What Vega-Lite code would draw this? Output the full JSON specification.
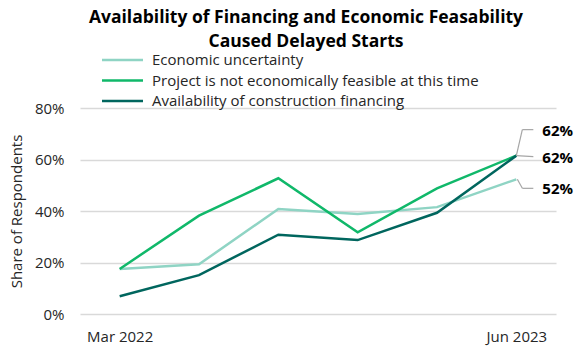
{
  "$schema": "https://vega.github.io/schema/vega-lite/v6.json",
  "width": 476,
  "height": 206,
  "autosize": {"type": "none"},
  "padding": {"left": 80, "top": 108, "right": 24, "bottom": 36},
  "background": "white",
  "config": {
    "font": "Open Sans",
    "view": {"stroke": null},
    "axis": {"labelFont": "Open Sans", "titleFont": "Open Sans", "labelColor": "#262626", "titleColor": "#262626"}
  },
  "title": {
    "text": ["Availability of Financing and Economic Feasability", "Caused Delayed Starts"],
    "fontSize": 17.5,
    "fontWeight": "bold",
    "color": "#000000",
    "anchor": "middle",
    "lineHeight": 24,
    "offset": -2,
    "dx": -12
  },
  "data": {
    "values": [
      {"quarter": "Mar 2022", "series": "Economic uncertainty", "value": 0.175},
      {"quarter": "Jun 2022", "series": "Economic uncertainty", "value": 0.193},
      {"quarter": "Sep 2022", "series": "Economic uncertainty", "value": 0.408},
      {"quarter": "Dec 2022", "series": "Economic uncertainty", "value": 0.388},
      {"quarter": "Mar 2023", "series": "Economic uncertainty", "value": 0.415},
      {"quarter": "Jun 2023", "series": "Economic uncertainty", "value": 0.523},
      {"quarter": "Mar 2022", "series": "Project is not economically feasible at this time", "value": 0.175},
      {"quarter": "Jun 2022", "series": "Project is not economically feasible at this time", "value": 0.382},
      {"quarter": "Sep 2022", "series": "Project is not economically feasible at this time", "value": 0.527},
      {"quarter": "Dec 2022", "series": "Project is not economically feasible at this time", "value": 0.317},
      {"quarter": "Mar 2023", "series": "Project is not economically feasible at this time", "value": 0.488},
      {"quarter": "Jun 2023", "series": "Project is not economically feasible at this time", "value": 0.615},
      {"quarter": "Mar 2022", "series": "Availability of construction financing", "value": 0.069},
      {"quarter": "Jun 2022", "series": "Availability of construction financing", "value": 0.151},
      {"quarter": "Sep 2022", "series": "Availability of construction financing", "value": 0.308},
      {"quarter": "Dec 2022", "series": "Availability of construction financing", "value": 0.287},
      {"quarter": "Mar 2023", "series": "Availability of construction financing", "value": 0.393},
      {"quarter": "Jun 2023", "series": "Availability of construction financing", "value": 0.615}
    ]
  },
  "encoding": {
    "x": {
      "field": "quarter",
      "type": "ordinal",
      "sort": ["Mar 2022", "Jun 2022", "Sep 2022", "Dec 2022", "Mar 2023", "Jun 2023"],
      "scale": {"type": "point", "padding": 0.5},
      "axis": {
        "title": null,
        "labelAngle": 0,
        "ticks": false,
        "domain": false,
        "grid": false,
        "labelFontSize": 15,
        "labelPadding": 15,
        "labelExpr": "datum.label == 'Mar 2022' || datum.label == 'Jun 2023' ? datum.label : ''"
      }
    },
    "y": {
      "field": "value",
      "type": "quantitative",
      "scale": {"domain": [0, 0.8]},
      "axis": {
        "title": "Share of Respondents",
        "titleFontSize": 15,
        "titleFontWeight": "normal",
        "titlePadding": 10,
        "format": ".0%",
        "values": [0, 0.2, 0.4, 0.6, 0.8],
        "ticks": false,
        "domain": false,
        "labelFontSize": 15,
        "labelPadding": 16,
        "gridColor": "#d9d9d9",
        "gridWidth": 1.5
      }
    }
  },
  "layer": [
    {
      "mark": {"type": "line", "strokeWidth": 2.5},
      "encoding": {
        "color": {
          "field": "series",
          "type": "nominal",
          "scale": {
            "domain": ["Economic uncertainty", "Project is not economically feasible at this time", "Availability of construction financing"],
            "range": ["#8fd4c4", "#10b86a", "#00665e"]
          },
          "legend": {
            "title": null,
            "orient": "none",
            "legendX": 31,
            "legendY": -59.5,
            "padding": 0,
            "symbolType": "M-2,0H2",
            "symbolSize": 420,
            "symbolStrokeWidth": 2.5,
            "labelFontSize": 15,
            "labelColor": "#262626",
            "labelOffset": 18,
            "rowPadding": 0.5,
            "labelLimit": 500
          }
        }
      }
    },
    {
      "transform": [{"filter": "datum.quarter == 'Jun 2023' && datum.series == 'Availability of construction financing'"}],
      "layer": [
        {"mark": {"type": "rule", "color": "#a6a6a6", "strokeWidth": 1.2, "x2Offset": 6, "y2Offset": -26}, "encoding": {"x2": {"field": "quarter"}, "y2": {"field": "value"}}},
        {"mark": {"type": "rule", "color": "#a6a6a6", "strokeWidth": 1.2, "xOffset": 6, "yOffset": -26, "x2Offset": 17, "y2Offset": -26}, "encoding": {"x2": {"field": "quarter"}, "y2": {"field": "value"}}},
        {"mark": {"type": "text", "dx": 26, "dy": -25, "align": "left", "baseline": "middle", "fontSize": 15, "fontWeight": "bold", "color": "#000000"}, "encoding": {"text": {"field": "value", "format": ".0%"}}}
      ]
    },
    {
      "transform": [{"filter": "datum.quarter == 'Jun 2023' && datum.series == 'Project is not economically feasible at this time'"}],
      "layer": [
        {"mark": {"type": "rule", "color": "#a6a6a6", "strokeWidth": 1.2, "x2Offset": 17, "y2Offset": 1}, "encoding": {"x2": {"field": "quarter"}, "y2": {"field": "value"}}},
        {"mark": {"type": "text", "dx": 26, "dy": 2, "align": "left", "baseline": "middle", "fontSize": 15, "fontWeight": "bold", "color": "#000000"}, "encoding": {"text": {"field": "value", "format": ".0%"}}}
      ]
    },
    {
      "transform": [{"filter": "datum.quarter == 'Jun 2023' && datum.series == 'Economic uncertainty'"}],
      "layer": [
        {"mark": {"type": "rule", "color": "#a6a6a6", "strokeWidth": 1.2, "xOffset": 1, "x2Offset": 6, "y2Offset": 9}, "encoding": {"x2": {"field": "quarter"}, "y2": {"field": "value"}}},
        {"mark": {"type": "rule", "color": "#a6a6a6", "strokeWidth": 1.2, "xOffset": 6, "yOffset": 9, "x2Offset": 17, "y2Offset": 9}, "encoding": {"x2": {"field": "quarter"}, "y2": {"field": "value"}}},
        {"mark": {"type": "text", "dx": 26, "dy": 10, "align": "left", "baseline": "middle", "fontSize": 15, "fontWeight": "bold", "color": "#000000"}, "encoding": {"text": {"field": "value", "format": ".0%"}}}
      ]
    }
  ]
}
